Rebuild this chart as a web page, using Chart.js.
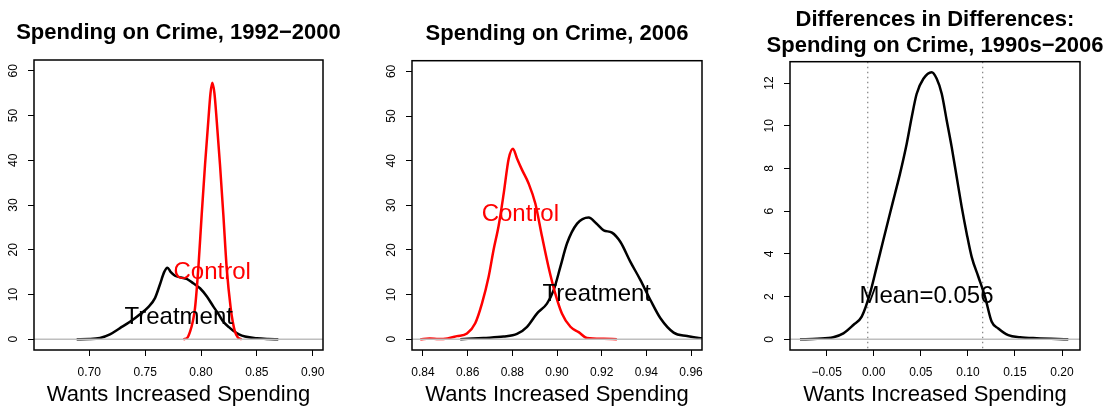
<!DOCTYPE html>
<html>
<head>
<meta charset="utf-8">
<title>Spending on Crime</title>
<script src="https://cdn.jsdelivr.net/npm/chart.js@4.4.1/dist/chart.umd.min.js"></script>
<style>
  html, body { margin: 0; padding: 0; background: #fff; }
  #wrap { position: relative; width: 1112px; height: 409px; overflow: hidden; }
  canvas { position: absolute; top: 0; }
</style>
</head>
<body>
<div id="wrap">
  <canvas id="early" width="370" height="409" style="left:0"></canvas>
  <canvas id="late" width="370" height="409" style="left:370px"></canvas>
  <canvas id="diff" width="372" height="409" style="left:740px"></canvas>
</div>
<script>
const FONT = '"Liberation Sans", Arial, Helvetica, sans-serif';

// 1992-2000 densities
const earlyTreatX = [0.6887, 0.7000, 0.7096, 0.7185, 0.7275, 0.7364, 0.7454, 0.7528, 0.7588, 0.7633,
  0.7670, 0.7699, 0.7730, 0.7767, 0.7820, 0.7872, 0.7930, 0.7991, 0.8051, 0.8111,
  0.8160, 0.8200, 0.8250, 0.8289, 0.8340, 0.8394, 0.8500, 0.8600, 0.8692];
const earlyTreatDensity = [0, 0.05, 0.3, 1.1, 2.5, 3.9, 5.6, 7.2, 9.2, 12.3,
  15.0, 16.0, 15.0, 14.2, 13.8, 13.5, 12.5, 11.4, 9.6, 7.3,
  5.5, 3.9, 2.7, 1.9, 1.1, 0.6, 0.2, 0.05, 0];
const earlyControlX = [0.7842, 0.7880, 0.7902, 0.7925, 0.7946, 0.7976, 0.8006, 0.8036, 0.8065, 0.8085,
  0.8101, 0.8120, 0.8141, 0.8170, 0.8200, 0.8230, 0.8266, 0.8285, 0.8304, 0.8330, 0.8364];
const earlyControlDensity = [0, 0.4, 1.7, 3.8, 6.9, 15.9, 27.8, 39.0, 48.7, 55.0,
  57.3, 55.0, 48.7, 39.0, 27.8, 15.9, 6.9, 3.8, 1.7, 0.4, 0];

// 2006 densities
const lateControlX = [0.8388, 0.8430, 0.8470, 0.8510, 0.8552, 0.8597, 0.8634, 0.8664, 0.8694, 0.8716,
  0.8739, 0.8761, 0.8784, 0.8803, 0.8821, 0.8843, 0.8873, 0.8903, 0.8933, 0.8962,
  0.8992, 0.9022, 0.9060, 0.9097, 0.9134, 0.9209, 0.9268];
const lateControlDensity = [0, 0.15, 0.05, 0.2, 0.7, 1.3, 3.6, 8.0, 14.0, 20.0,
  25.5, 32.5, 40.5, 42.7, 40.5, 38.0, 34.9, 30.4, 23.0, 16.2,
  10.3, 5.8, 2.8, 1.6, 0.3, 0.1, 0];
const lateTreatX = [0.8567, 0.8671, 0.8761, 0.8821, 0.8866, 0.8911, 0.8955, 0.8985, 0.9015, 0.9045,
  0.9090, 0.9142, 0.9175, 0.9209, 0.9246, 0.9284, 0.9328, 0.9373, 0.9418, 0.9463,
  0.9522, 0.9582, 0.9642, 0.9700];
const lateTreatDensity = [0, 0.3, 0.6, 1.2, 2.8, 5.8, 8.0, 11.0, 16.2, 21.5,
  25.9, 27.3, 26.0, 24.4, 23.9, 21.8, 17.4, 13.3, 8.8, 4.7,
  1.5, 0.74, 0.25, 0.05];

// difference-in-differences density
const diffX = [-0.0784, -0.0600, -0.0430, -0.0323, -0.0217, -0.0128, -0.0040, 0.0031, 0.0101, 0.0172,
  0.0226, 0.0279, 0.0350, 0.0403, 0.0456, 0.0527, 0.0615, 0.0669, 0.0722, 0.0775,
  0.0828, 0.0881, 0.0934, 0.0987, 0.1040, 0.1111, 0.1182, 0.1253, 0.1323, 0.1429,
  0.1554, 0.1731, 0.2067];
const diffDensity = [0, 0.03, 0.1, 0.28, 0.67, 1.06, 2.15, 3.39, 4.64, 5.89,
  6.83, 7.76, 9.16, 10.4, 11.5, 12.2, 12.51, 12.2, 11.5, 10.25,
  9.0, 7.6, 6.2, 4.96, 3.86, 2.93, 1.99, 0.82, 0.51, 0.2,
  0.1, 0.05, 0];
const diffMean = 0.056;
const diffBounds = [-0.0064, 0.1157];

// axis ticks
const earlyTicks = [0.70, 0.75, 0.80, 0.85, 0.90];
const lateTicks = [0.84, 0.86, 0.88, 0.90, 0.92, 0.94, 0.96];
const diffTicks = [-0.05, 0.00, 0.05, 0.10, 0.15, 0.20];
const densityTicks = [0, 10, 20, 30, 40, 50, 60];
const diffDensityTicks = [0, 2, 4, 6, 8, 10, 12];

const fmt = v => (v < 0 ? '\u2212' : '') + Math.abs(v).toFixed(2);

// box round the plot, grey zero line, text labels, dotted interval lines, title
const framePlugin = {
  id: 'frame',
  beforeDatasetsDraw(chart, args, opts) {
    const { ctx, chartArea: a, scales: { x } } = chart;
    (opts.vlines || []).forEach(v => {
      const px = x.getPixelForValue(v);
      ctx.save();
      ctx.strokeStyle = '#808080';
      ctx.lineWidth = 1.2;
      ctx.setLineDash([1.5, 3.5]);
      ctx.beginPath();
      ctx.moveTo(px, a.top);
      ctx.lineTo(px, a.bottom);
      ctx.stroke();
      ctx.restore();
    });
  },
  afterDatasetsDraw(chart, args, opts) {
    const { ctx, chartArea: a, scales: { x, y } } = chart;
    ctx.save();
    const y0 = y.getPixelForValue(0);
    ctx.strokeStyle = '#bebebe';
    ctx.lineWidth = 1.5;
    ctx.beginPath();
    ctx.moveTo(a.left, y0);
    ctx.lineTo(a.right, y0);
    ctx.stroke();

    ctx.font = '24px ' + FONT;
    ctx.textAlign = 'center';
    ctx.textBaseline = 'middle';
    (opts.labels || []).forEach(l => {
      ctx.fillStyle = l.color;
      ctx.fillText(l.text, x.getPixelForValue(l.at[0]), y.getPixelForValue(l.at[1]));
    });

    ctx.strokeStyle = '#000';
    ctx.lineWidth = 1.5;
    ctx.strokeRect(a.left, a.top, a.right - a.left, a.bottom - a.top);

    // main title, centred over the plot box
    ctx.fillStyle = '#000';
    ctx.font = 'bold 22px ' + FONT;
    opts.title.forEach((line, i) => {
      ctx.fillText(line, (a.left + a.right) / 2, opts.titleY[i]);
    });
    ctx.restore();
  }
};

function densityPanel(id, p) {
  return new Chart(document.getElementById(id), {
    type: 'line',
    data: {
      datasets: p.series.map(s => ({
        data: s.x.map((x, i) => ({ x, y: s.y[i] })),
        borderColor: s.color,
        borderWidth: 2.5,
        pointRadius: 0,
        fill: false,
        cubicInterpolationMode: 'monotone'
      }))
    },
    options: {
      responsive: false,
      animation: false,
      layout: { padding: { left: 0, top: p.top, bottom: 0, right: p.padRight } },
      plugins: {
        legend: { display: false },
        tooltip: { enabled: false },
        title: { display: false },
        frame: { labels: p.labels, vlines: p.vlines, title: p.title, titleY: p.titleY }
      },
      scales: {
        x: {
          type: 'linear',
          min: p.xMin,
          max: p.xMax,
          afterFit: s => { s.height = 59; },
          afterBuildTicks: s => { s.ticks = p.xTicks.map(value => ({ value })); },
          ticks: {
            autoSkip: false, maxRotation: 0, padding: 9, color: '#000',
            font: { family: FONT, size: 12 },
            callback: v => fmt(v)
          },
          grid: { drawOnChartArea: false, drawTicks: true, tickLength: 6, color: '#000' },
          border: { display: false },
          title: {
            display: true,
            text: 'Wants Increased Spending',
            color: '#000',
            font: { family: FONT, size: 22 },
            padding: { top: 0, bottom: 1 }
          }
        },
        y: {
          type: 'linear',
          min: p.yMin,
          max: p.yMax,
          afterFit: s => { s.width = p.yAxisWidth; },
          afterBuildTicks: s => { s.ticks = p.yTicks.map(value => ({ value })); },
          ticks: {
            autoSkip: false, minRotation: 90, maxRotation: 90, crossAlign: 'center',
            padding: 8, color: '#000',
            font: { family: FONT, size: 12 },
            callback: v => String(v)
          },
          grid: { drawOnChartArea: false, drawTicks: true, tickLength: 6, color: '#000' },
          border: { display: false }
        }
      }
    },
    plugins: [framePlugin]
  });
}

densityPanel('early', {
  title: ['Spending on Crime, 1992\u22122000'],
  titleY: [33],
  top: 60,
  yAxisWidth: 34, padRight: 47,
  xMin: 0.6505, xMax: 0.9092, xTicks: earlyTicks,
  yMin: -2.4, yMax: 62.4, yTicks: densityTicks,
  series: [
    { x: earlyControlX, y: earlyControlDensity, color: '#ff0000' },
    { x: earlyTreatX, y: earlyTreatDensity, color: '#000000' }
  ],
  labels: [
    { text: 'Control', at: [0.81, 15], color: '#ff0000' },
    { text: 'Treatment', at: [0.78, 5], color: '#000000' }
  ]
});

densityPanel('late', {
  title: ['Spending on Crime, 2006'],
  titleY: [33.5],
  top: 60.7,
  yAxisWidth: 42, padRight: 38,
  xMin: 0.8351, xMax: 0.9649, xTicks: lateTicks,
  yMin: -2.4, yMax: 62.4, yTicks: densityTicks,
  series: [
    { x: lateControlX, y: lateControlDensity, color: '#ff0000' },
    { x: lateTreatX, y: lateTreatDensity, color: '#000000' }
  ],
  labels: [
    { text: 'Control', at: [0.8836, 28], color: '#ff0000' },
    { text: 'Treatment', at: [0.9178, 10], color: '#000000' }
  ]
});

densityPanel('diff', {
  title: ['Differences in Differences:', 'Spending on Crime, 1990s\u22122006'],
  titleY: [19.5, 45.5],
  top: 61.7,
  yAxisWidth: 50, padRight: 32,
  xMin: -0.089, xMax: 0.2191, xTicks: diffTicks,
  yMin: -0.5, yMax: 13, yTicks: diffDensityTicks,
  series: [
    { x: diffX, y: diffDensity, color: '#000000' }
  ],
  labels: [
    { text: 'Mean=' + diffMean.toFixed(3), at: [diffMean, 2], color: '#000000' }
  ],
  vlines: diffBounds
});
</script>
</body>
</html>
